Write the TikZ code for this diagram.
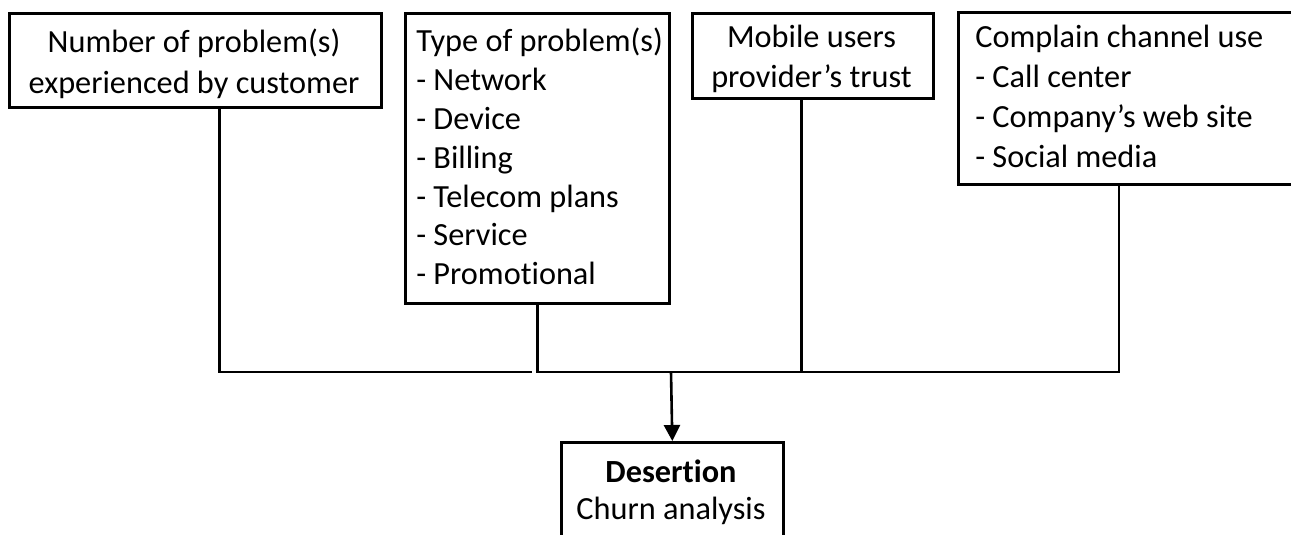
\documentclass[tikz,border=0pt]{standalone}
\usepackage{fontspec}
\setmainfont{Carlito}[Ligatures={NoCommon,NoContextual}]
\usetikzlibrary{arrows.meta}
\begin{document}
\begin{tikzpicture}[x=1pt,y=-1pt,line width=2.6pt,
  box/.style={draw,line width=2.6pt,inner sep=0pt,anchor=north west},
  txt/.style={inner sep=0pt,anchor=base},
  conn/.style={draw,line width=2.6pt}]
\clip (0,0) rectangle (1291,535);
% boxes
\node[box,minimum width=372pt,minimum height=94pt] (b1) at (8,12) {};
\node[box,minimum width=264pt,minimum height=290pt] (b2) at (404,12) {};
\node[box,minimum width=241pt,minimum height=85pt] (b3) at (691,12) {};
\node[box,minimum width=345pt,minimum height=172pt] (b4) at (957,11) {};
\node[box,minimum width=222pt,minimum height=130pt] (b5) at (560,441) {};
% texts
\node[txt,text width=372pt,align=flush center,font=\fontsize{32.3}{40}\selectfont] (t1) at (194,53)
  {Number of problem(s)\\experienced by customer};
\node[txt,anchor=base west,text width=255pt,align=flush left,font=\fontsize{32.3}{38.8}\selectfont] (t2) at (415,52)
  {Type of problem(s)\\- Network\\- Device\\- Billing\\- Telecom plans\\- Service\\- Promotional};
\node[txt,text width=241pt,align=flush center,font=\fontsize{32.3}{40}\selectfont] (t3) at (811.5,48)
  {Mobile users\\provider’s trust};
\node[txt,anchor=base west,text width=310pt,align=flush left,font=\fontsize{32.3}{40}\selectfont] (t4) at (974,48)
  {Complain channel use\\- Call center\\- Company’s web site\\- Social media};
\node[txt,text width=222pt,align=flush center,font=\fontsize{32.3}{37}\selectfont] (t5) at (671,482)
  {\textbf{Desertion}\\Churn analysis};
% connectors
\coordinate (j) at (671,372);
\coordinate (jl) at (532,372);
\draw[conn] ([xshift=24pt]b1.south) |- (jl);
\draw[conn] (b2.south) |- ([xshift=-12pt]b4.south |- j) -- ([xshift=-12pt]b4.south);
\draw[conn] ([xshift=-11.5pt]b3.south) -- ([xshift=-11.5pt]b3.south |- j);
\draw[conn,-{Triangle[width=16pt,length=16pt]}] (j) -- (b5.north);
\end{tikzpicture}
\end{document}
